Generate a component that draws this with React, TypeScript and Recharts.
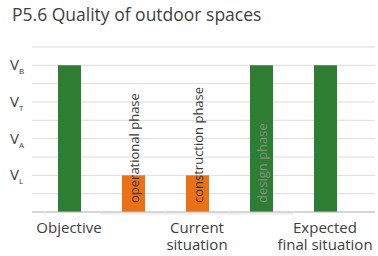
import React from "react";
import {
  BarChart,
  Bar,
  XAxis,
  YAxis,
  CartesianGrid,
  Cell,
  LabelList,
} from "recharts";

const categories = ["objective", "operational", "construction", "design", "final"];
const values = [8, 2, 2, 8, 8];
const barNotes = ["", "operational phase", "construction  phase", "design phase", ""];
const groupLines = [["Objective"], [], ["Current", "situation"], [], ["Expected", "final situation"]];
const yTicks = [2, 4, 6, 8];
const ySubs = ["L", "A", "T", "B"];

const GREEN = "#2e7d32";
const ORANGE = "#ea7118";
const barColors = [GREEN, ORANGE, ORANGE, GREEN, GREEN];
const noteColors = ["#333", "#3a3a3a", "#3a3a3a", "#7f927f", "#333"];

const data = categories.map((c, i) => ({
  cat: c,
  value: values[i],
  note: barNotes[i],
}));

const FONT = "'Open Sans', sans-serif";

function CategoryTick(props: any) {
  const { x, y, index } = props;
  const lines = groupLines[index] || [];
  const half = 32;
  const top = y - 9;
  return (
    <g>
      {index >= 1 && index <= 3 && (
        <g stroke="#e3e3e3" strokeWidth={1}>
          <line x1={x - half} x2={x + half} y1={top + 3} y2={top + 3} />
          <line x1={x - half} x2={x - half} y1={top} y2={top + 3} />
          <line x1={x + half} x2={x + half} y1={top} y2={top + 3} />
        </g>
      )}
      {index === 0 && (
        <line x1={x - 24} x2={x - 24} y1={top} y2={top + 4} stroke="#e3e3e3" />
      )}
      {lines.length > 0 && (
        <text
          x={x}
          y={top + 22}
          textAnchor="middle"
          fontSize={15}
          fontFamily={FONT}
          fill="#404040"
        >
          {lines.map((t: string, i: number) => (
            <tspan key={i} x={x} dy={i === 0 ? 0 : 17}>
              {t}
            </tspan>
          ))}
        </text>
      )}
    </g>
  );
}

function VTick(props: any) {
  const { y, payload } = props;
  const idx = yTicks.indexOf(payload.value);
  if (idx < 0) return null;
  return (
    <text x={10} y={y + 5} fontFamily={FONT} fill="#404040">
      <tspan fontSize={15}>V</tspan>
      <tspan fontSize={8} dy={4}>{ySubs[idx]}</tspan>
    </text>
  );
}

function NoteLabel(props: any) {
  const { x, y, width, height, value, index } = props;
  if (!value) return null;
  const cx = x + width / 2;
  const by = y + height - 9;
  return (
    <text
      x={cx}
      y={by}
      transform={`rotate(-90 ${cx} ${by})`}
      textAnchor="start"
      dominantBaseline="central"
      fontSize={13}
      fontFamily={FONT}
      fill={noteColors[index]}
    >
      {value}
    </text>
  );
}

export default function App() {
  return (
    <div style={{ position: "absolute", left: 0, top: 0, width: 378, height: 256, background: "#fff" }}>
      <div
        style={{
          position: "absolute",
          left: 12,
          top: 2,
          fontFamily: FONT,
          fontSize: 17.5,
          color: "#404040",
          whiteSpace: "nowrap",
        }}
      >
        P5.6 Quality of outdoor spaces
      </div>
      <BarChart
        width={378}
        height={256}
        data={data}
        margin={{ top: 47, right: 3, bottom: 0, left: 0 }}
        barSize={23}
      >
        <CartesianGrid vertical={false} stroke="#dcdcdc" />
        <YAxis
          width={32}
          domain={[0, 9]}
          ticks={[0, 1, 2, 3, 4, 5, 6, 7, 8, 9]}
          axisLine={false}
          tickLine={false}
          tick={<VTick />}
          interval={0}
        />
        <XAxis
          dataKey="cat"
          height={44}
          interval={0}
          axisLine={{ stroke: "#bfbfbf" }}
          tickLine={false}
          tick={<CategoryTick />}
          padding={{ left: 5, right: 18 }}
        />
        <Bar dataKey="value" isAnimationActive={false}>
          {data.map((d, i) => (
            <Cell key={d.cat} fill={barColors[i]} />
          ))}
          <LabelList dataKey="note" content={<NoteLabel />} />
        </Bar>
      </BarChart>
    </div>
  );
}
